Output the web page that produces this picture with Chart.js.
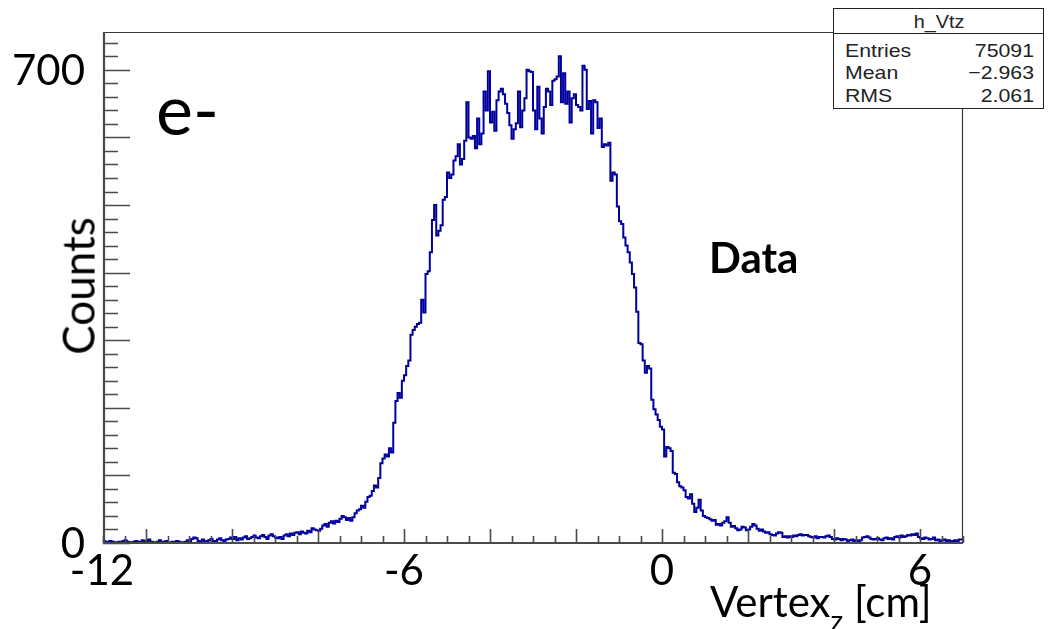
<!DOCTYPE html>
<html>
<head>
<meta charset="utf-8">
<title>h_Vtz</title>
<script src="https://cdn.jsdelivr.net/npm/chart.js@4.4.1/dist/chart.umd.min.js"></script>
<style>
body{margin:0;background:#fff;}
#wrap{position:relative;width:1048px;height:629px;overflow:hidden;background:#fff;}
#wrap canvas{position:absolute;left:0;top:0;}
.lbl{position:absolute;white-space:nowrap;color:#000;}
#stats{position:absolute;left:833px;top:8px;width:209px;height:99px;border:1.5px solid #222;background:#fff;}
#statsHead{position:absolute;left:0;top:24px;width:100%;border-top:1.5px solid #222;}
</style>
</head>
<body>
<div id="wrap">
<canvas id="hVtz" width="1048" height="629"></canvas>
<div id="stats"><div id="statsHead"></div></div>
</div>

<script>
// ================= DATA =================
// histogram h_Vtz : 400 bins, 0.05 cm wide, from -13 to 7 cm
const X_MIN = -13
const X_MAX = 7
const BIN_W = 0.05
const Y_MAX = 756

// -13 .. -7 cm
const leftTail = [
2,3,1,2,3,2,1,0,2,1,3,4,2,1,0,2,3,1,2,4,
1,3,5,2,1,0,2,4,1,2,3,1,0,2,1,3,2,0,1,2,
4,2,6,8,7,3,2,5,1,3,4,6,2,3,5,7,4,3,5,6,
8,6,9,4,7,5,8,10,6,7,9,11,8,7,10,12,9,6,11,13,
10,8,7,9,6,11,13,10,14,12,15,16,13,17,15,14,18,16,22,20,
19,18,21,26,28,24,30,32,29,33,31,36,40,38,34,37,33,38,44,48
]

// -7 .. -4 cm
const risingEdge = [
50,55,52,61,68,70,77,85,82,96,118,125,131,128,140,134,178,210,222,215,
240,248,262,270,308,315,320,324,326,360,341,398,402,430,478,500,455,462,470,508,
512,548,540,545,566,572,590,560,568,595,652,600,598,602,584,628,590,606,668,640
]

// -4 .. -1 cm
const plateau = [
698,622,638,610,655,668,672,664,650,636,618,598,612,621,668,615,640,658,700,698,
697,640,612,675,628,606,645,672,668,648,684,686,690,720,652,695,650,668,622,658,
664,648,645,640,706,700,642,654,606,655,652,614,628,586,590,588,592,536,548,545
]

// -1 .. 1 cm
const fallingEdge = [
498,476,472,452,440,430,415,398,378,342,296,294,270,252,262,258,212,198,190,182,
172,168,128,142,140,136,104,102,90,84,82,78,68,66,72,58,46,52,64,48
]

// 1 .. 7 cm
const rightTail = [
40,38,37,35,33,34,27,28,26,30,32,38,30,24,25,22,19,20,24,23,
19,20,24,28,26,21,18,20,17,15,16,13,12,11,14,16,15,9,10,8,
10,9,11,10,12,13,11,12,12,10,9,8,10,7,9,9,8,10,11,9,
6,5,7,6,4,6,5,3,4,5,3,4,2,4,8,9,10,8,6,5,
6,7,5,4,7,8,6,7,5,9,10,8,11,9,10,12,11,13,12,14,
9,7,6,8,7,5,6,8,4,5,3,4,5,3,4,2,3,4,2,5
]

const counts = [...leftTail, ...risingEdge, ...plateau, ...fallingEdge, ...rightTail]

// axis labels
const xTickLabels = ["-12","-6","0","6"]
const xTickValues = [null,-6,0,6]   // "-12" sits at the frame edge
const yTickLabels = ["0","700"]
const yTickValues = [0,700]

// stats box
const statsTitle = "h_Vtz"
const statsNames = ["Entries","Mean","RMS"]
const statsValues = ["75091","\u22122.963","2.061"]

// ================= HISTO POINTS =================
let points = counts.map((c,i)=>({x: X_MIN + i*BIN_W, y: c}))
points.push({x: X_MAX, y: counts[counts.length-1]})

// ================= FRAME + TICKS (root style, ticks inside) =================
const rootFrame = {
id:"rootFrame",
afterDatasetsDraw(chart){

let ctx = chart.ctx
let a = chart.chartArea
let x = chart.scales.x
let y = chart.scales.y

ctx.save()
ctx.strokeStyle = "#3a3a3a"

// thin frame top / right
ctx.lineWidth = 1.2
ctx.beginPath()
ctx.moveTo(a.left, a.top+0.5)
ctx.lineTo(a.right-0.5, a.top+0.5)
ctx.lineTo(a.right-0.5, a.bottom)
ctx.stroke()

// axes
ctx.strokeStyle = "#4a4a4a"
ctx.lineWidth = 2.2
ctx.beginPath()
ctx.moveTo(a.left+1, a.top)
ctx.lineTo(a.left+1, a.bottom)
ctx.lineTo(a.right, a.bottom)
ctx.stroke()

// x ticks every 0.5, major every 2
ctx.lineWidth = 1.6
ctx.beginPath()
for(let k=0; k<=40; k++){
let v = X_MIN + k*0.5
let px = Math.round(x.getPixelForValue(v)) + 0.5
let len = (v % 2 === 0) ? 14 : 7
ctx.moveTo(px, a.bottom)
ctx.lineTo(px, a.bottom - len)
}
ctx.stroke()

// y ticks every 20, major every 100
ctx.beginPath()
for(let v=0; v<Y_MAX; v+=20){
let py = Math.round(y.getPixelForValue(v)) + 0.5
let len = (v % 100 === 0) ? 27 : 15
ctx.moveTo(a.left, py)
ctx.lineTo(a.left + len, py)
}
ctx.stroke()

ctx.restore()
}
}

// ================= CHART =================
let chart = new Chart(document.getElementById("hVtz"),{
type:"line",
data:{
datasets:[{
label:"h_Vtz",
data:points,
stepped:"after",
borderColor:"#00009c",
borderWidth:2,
pointRadius:0,
fill:false,
tension:0
}]
},
options:{
responsive:false,
animation:false,
events:[],
layout:{padding:{left:103,top:32,right:85,bottom:86}},
plugins:{legend:{display:false},tooltip:{enabled:false}},
scales:{
x:{type:"linear",min:X_MIN,max:X_MAX,display:false},
y:{type:"linear",min:0,max:Y_MAX,display:false}
}
},
plugins:[rootFrame]
})

// ================= TEXT =================
const wrap = document.getElementById("wrap")

// font: [family, ascent, line-height] so that baseline = top + ascent*size
const LATO = ["Lato, sans-serif", 0.987, 1.2]
const ARIAL = ["'Liberation Sans', Arial, sans-serif", 0.905, 1.117]

function addLabel(html, x, baseline, size, font, align, extra){
let d = document.createElement("div")
d.className = "lbl"
d.innerHTML = html
d.style.fontFamily = font[0]
d.style.fontSize = size + "px"
d.style.lineHeight = font[2]
d.style.left = x + "px"
d.style.top = (baseline - font[1]*size) + "px"
let tr = ""
if(align === "center") tr = "translateX(-50%)"
if(align === "right") tr = "translateX(-100%)"
if(extra) tr += " " + extra
d.style.transform = tr
d.style.transformOrigin = align === "right" ? "100% 0" : (align === "center" ? "50% 0" : "0 0")
wrap.appendChild(d)
return d
}

let sx = chart.scales.x
let sy = chart.scales.y
let area = chart.chartArea

// x labels
xTickLabels.forEach((t,i)=>{
let v = xTickValues[i]
let px = v === null ? area.left - 1 : sx.getPixelForValue(v)
addLabel(t, px, 585, 42, LATO, "center")
})

// y labels, digits centred on their tick
yTickLabels.forEach((t,i)=>{
let py = sy.getPixelForValue(yTickValues[i])
addLabel(t, 85, py + 0.36*42, 42, LATO, "right")
})

// axis titles
addLabel('Vertex<span style="font-size:28px;position:relative;top:14px;">z</span> [cm]', 710, 617, 42, LATO, "left")

let counts_lbl = addLabel("Counts", 78, 0, 44, LATO, "left")
counts_lbl.style.top = "286px"
counts_lbl.style.transformOrigin = "50% 50%"
counts_lbl.style.transform = "translate(-50%,-50%) rotate(-90deg)"

// annotations
addLabel("e-", 156, 135, 70, LATO, "left")
addLabel("<b>Data</b>", 709, 273, 42, LATO, "left")

// stats box
addLabel(statsTitle, 939, 28, 18, ARIAL, "center", "scaleX(1.1)").style.color = "#222"
statsNames.forEach((n,i)=>{
let base = 57 + i*22.5
addLabel(n, 845, base, 19, ARIAL, "left", "scaleX(1.12)").style.color = "#222"
addLabel(statsValues[i], 1034, base, 19, ARIAL, "right", "scaleX(1.12)").style.color = "#222"
})
</script>
</body>
</html>
